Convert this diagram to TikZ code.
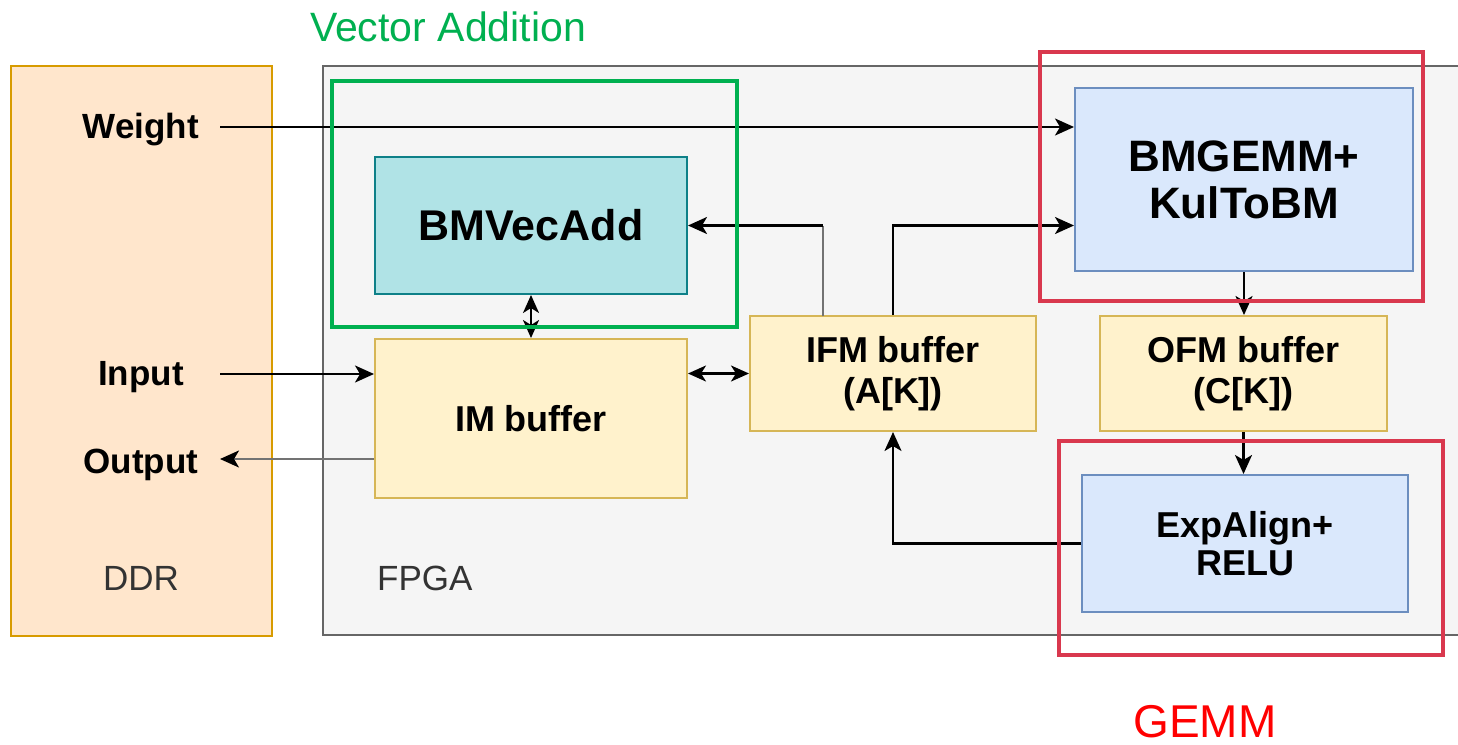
\documentclass[tikz,border=0pt]{standalone}
\usepackage{fontspec}
\setmainfont{Liberation Sans}
\usetikzlibrary{arrows.meta}
\definecolor{ddrfill}{HTML}{FFE6CC}
\definecolor{ddrline}{HTML}{D79B00}
\definecolor{fpgafill}{HTML}{F5F5F5}
\definecolor{fpgaline}{HTML}{666666}
\definecolor{vecfill}{HTML}{B0E3E6}
\definecolor{vecline}{HTML}{0E8088}
\definecolor{buffill}{HTML}{FFF2CC}
\definecolor{bufline}{HTML}{D6B656}
\definecolor{bluefill}{HTML}{DAE8FC}
\definecolor{blueline}{HTML}{6C8EBF}
\definecolor{grpgreen}{HTML}{00B050}
\definecolor{grpred}{HTML}{D9384E}
\definecolor{txtgray}{HTML}{333333}
\begin{document}
\begin{tikzpicture}[x=1pt,y=-1pt,
  box/.style={draw,line width=2pt,inner sep=0pt,align=center,font=\bfseries\fontsize{36}{41}\selectfont},
  vecbox/.style={box,fill=vecfill,draw=vecline},
  bufbox/.style={box,fill=buffill,draw=bufline},
  bluebox/.style={box,fill=bluefill,draw=blueline},
  lbl/.style={inner sep=0pt,font=\bfseries\fontsize{35}{40}\selectfont},
  conn/.style={line width=2.3pt,-{Stealth[length=19pt,width=17pt,inset=5pt,color=black]}},
  bconn/.style={line width=2.3pt,{Stealth[length=18pt,width=16pt,inset=5pt]}-{Stealth[length=18pt,width=16pt,inset=5pt]}},
  grp/.style={line width=4.5pt}
]
\useasboundingbox (0,0) rectangle (1458,744);
\fill[white] (0,0) rectangle (1458,744);
% DDR
\node[draw=ddrline,fill=ddrfill,line width=2pt,minimum width=261pt,minimum height=570pt,inner sep=0pt] (ddr) at (141.5,351) {};
% FPGA
\fill[fpgafill] (323,66) rectangle (1458,635);
\draw[fpgaline,line width=2pt] (1458,66) -- (323,66) -- (323,635) -- (1458,635);
% blocks
\node[vecbox,minimum width=312pt,minimum height=137pt,font=\bfseries\fontsize{43}{47}\selectfont] (vec) at (531,225.5) {BMVecAdd};
\node[bufbox,minimum width=312pt,minimum height=159pt] (imb) at (531,418.5) {IM buffer};
\node[bufbox,minimum width=286pt,minimum height=115pt] (ifm) at (893,373.5) {IFM buffer\\(A[K])};
\node[bufbox,minimum width=287pt,minimum height=115pt] (ofm) at (1243.5,373.5) {OFM buffer\\(C[K])};
\node[bluebox,minimum width=338pt,minimum height=183pt,font=\bfseries\fontsize{44}{47}\selectfont] (gemm) at (1244,179.5) {BMGEMM+\\KulToBM};
\node[bluebox,minimum width=326pt,minimum height=137pt,font=\bfseries\fontsize{36}{38}\selectfont] (exp) at (1245,543.5) {ExpAlign+\\RELU};
% labels
\node[lbl] (wl) at (141,130) {Weight};
\node[lbl] (inl) at (141,377) {Input};
\node[lbl] (outl) at (141,465) {Output};
\node[inner sep=0pt,text=txtgray,font=\fontsize{35}{40}\selectfont] (ddrl) at (141,578) {DDR};
\node[inner sep=0pt,text=txtgray,font=\fontsize{35}{40}\selectfont,anchor=west] (fpgal) at (377,578) {FPGA};
\coordinate (wS) at (220,127);
\coordinate (inS) at (220,374);
\coordinate (outE) at (220,459);
\coordinate (ifmL) at (823,316);
% connectors
\draw[conn] (wS) -- (wS -| gemm.west);
\draw[conn] (inS) -- (inS -| imb.west);
\draw[conn,draw=black!55] (outE -| imb.west) -- (outE);
\draw[bconn] (imb.east |- ifm.west) -- (ifm.west);
\draw[bconn] (vec.south) -- (imb.north);
\draw[line width=2.3pt,draw=black!55] (ifmL) -- (ifmL |- vec.east);
\draw[conn] (ifmL |- vec.east) -- (vec.east);
\draw[conn] (ifm.north) |- (vec.east -| gemm.west);
\draw[conn] (gemm.south) -- (gemm.south |- ofm.north);
\draw[conn] (ofm.south) -- (ofm.south |- exp.north);
\draw[conn] (exp.west) -| (ifm.south);
% group frames
\draw[grp,grpgreen] (332,81) rectangle (737,327);
\draw[grp,grpred] (1040,52) rectangle (1423,301);
\draw[grp,grpred] (1059,441) rectangle (1443,655);
\node[text=grpgreen,inner sep=0pt,font=\fontsize{41}{45}\selectfont] (vaT) at (448,27) {Vector Addition};
\node[text=red,inner sep=0pt,anchor=base,font=\fontsize{46}{50}\selectfont] (gemmT) at (1205,737) {GEMM};
\end{tikzpicture}
\end{document}
